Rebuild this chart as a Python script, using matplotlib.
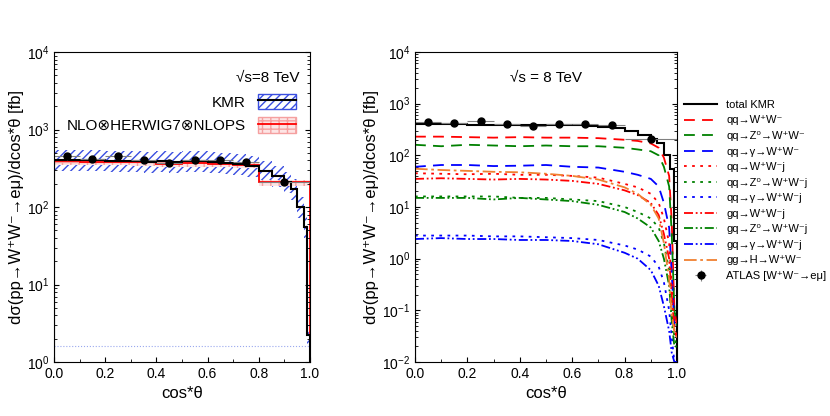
import matplotlib.pyplot as plt
import numpy as np
from matplotlib.patches import Patch
from matplotlib.lines import Line2D
from matplotlib.ticker import MultipleLocator

plt.rcParams['font.family'] = ['Liberation Sans', 'DejaVu Sans']

# ATLAS data
atlas_x = [0.05, 0.15, 0.25, 0.35, 0.45, 0.55, 0.65, 0.75, 0.9]
atlas_xerr = [0.05] * 8 + [0.1]
atlas_y = [450, 420, 460, 400, 370, 400, 400, 380, 210]
atlas_yerr = [40, 40, 40, 35, 35, 35, 35, 35, 20]

# KMR total histogram
kmr_edges = [0, 0.05, 0.1, 0.15, 0.2, 0.25, 0.3, 0.35, 0.4, 0.45, 0.5, 0.55, 0.6, 0.65, 0.7,
             0.75, 0.8, 0.85, 0.9, 0.925, 0.95, 0.975, 0.99, 1.0]
kmr_vals = [400, 400, 405, 400, 395, 390, 395, 385, 390, 380, 390, 390, 385, 370, 355,
            340, 290, 250, 210, 170, 100, 55, 2.2]

# NLO x HERWIG7 x NLOPS
nlo_edges = [0, 0.1, 0.2, 0.3, 0.4, 0.5, 0.6, 0.7, 0.8, 1.0]
nlo_vals = [390, 385, 385, 380, 360, 370, 360, 350, 210]

# right panel sub-processes
xs = [0.0, 0.1, 0.2, 0.3, 0.4, 0.5, 0.6, 0.7, 0.8, 0.85, 0.9, 0.93, 0.95, 0.97, 0.98, 0.99, 1.0]
qq_ww = [230, 230, 225, 220, 225, 220, 220, 215, 200, 190, 170, 140, 90, 40, 5, 0.1, 0.05]
qq_z_ww = [160, 150, 160, 155, 150, 155, 150, 150, 140, 130, 120, 100, 60, 25, 3, 0.1, 0.05]
qq_g_ww = [60, 65, 65, 62, 63, 65, 60, 58, 48, 42, 35, 25, 12, 4, 0.5, 0.05, 0.03]
qq_wwj = [45, 44, 43, 44, 42, 42, 40, 37, 28, 24, 18, 12, 6, 2, 0.3, 0.05, 0.03]
qq_z_wwj = [16, 16, 16, 16, 15, 15, 14, 13, 10, 8, 6, 4, 2, 0.6, 0.1, 0.03, 0.02]
qq_g_wwj = [2.8, 2.8, 2.8, 2.7, 2.7, 2.6, 2.5, 2.3, 1.8, 1.5, 1.1, 0.7, 0.35, 0.1, 0.03, 0.01, 0.01]
gq_wwj = [35, 36, 35, 34, 35, 34, 32, 28, 21, 17, 12, 7, 3, 1, 0.2, 0.04, 0.03]
gq_z_wwj = [15, 15, 15, 14, 15, 14, 13, 11, 8, 6, 4, 2.2, 1, 0.3, 0.06, 0.02, 0.02]
gq_g_wwj = [2.4, 2.5, 2.4, 2.4, 2.3, 2.3, 2.2, 1.9, 1.3, 1.0, 0.6, 0.3, 0.12, 0.04, 0.015, 0.01, 0.01]
gg_h_ww = [55, 52, 50, 48, 47, 44, 40, 34, 24, 18, 11, 6, 2, 0.4, 0.08, 0.04, 0.03]

ylab = 'dσ(pp→W⁺W⁻→eμ)/dcos*θ [fb]'

fig = plt.figure(figsize=(8.3, 4.16), dpi=100)
ax1 = fig.add_axes([54 / 830, 1 - 362 / 416, 256 / 830, 310 / 416])
ax2 = fig.add_axes([415 / 830, 1 - 362 / 416, 262 / 830, 310 / 416])

# ---- left panel
kv = np.array(kmr_vals)
ax1.stairs(kv * 1.35, kmr_edges, baseline=kv * 0.72, fill=True, facecolor='none',
           edgecolor='#3a4ee0', hatch='////', lw=0)
nv = np.array(nlo_vals)
ax1.stairs(nv * 1.05, nlo_edges, baseline=nv * 0.9, fill=True, facecolor='#fde4e4',
           edgecolor='#f5a0a0', hatch='++', lw=0)
ax1.stairs(nlo_vals, nlo_edges, color='red', lw=1.3)
ax1.stairs(kmr_vals, kmr_edges, color='black', lw=1.5)
ax1.errorbar(atlas_x, atlas_y, xerr=atlas_xerr, yerr=atlas_yerr, fmt='o', color='black',
             ecolor='grey', elinewidth=0.8, ms=5)
ax1.axhline(1.6, color='#9aa8ee', ls=':', lw=0.8)
h_kmr = (Patch(facecolor='none', edgecolor='#3a4ee0', hatch='////'), Line2D([], [], color='black', lw=1.5))
h_nlo = (Patch(facecolor='#fde4e4', edgecolor='#f5a0a0', hatch='++'), Line2D([], [], color='red', lw=1.3))
ax1.legend([h_kmr, h_nlo], ['KMR', 'NLO⊗HERWIG7⊗NLOPS'], loc='upper right',
           bbox_to_anchor=(1.0, 0.91), frameon=False, markerfirst=False, fontsize=11,
           handlelength=2.5, handleheight=1.2)
ax1.text(0.96, 0.94, '√s=8 TeV', transform=ax1.transAxes, ha='right', va='top', fontsize=11)
ax1.set_ylim(1, 1e4)

# ---- right panel
series = [
    (qq_ww, 'red', (0, (6, 4)), 'qq→W⁺W⁻'),
    (qq_z_ww, 'green', (0, (6, 4)), 'qq→Z⁰→W⁺W⁻'),
    (qq_g_ww, 'blue', (0, (6, 4)), 'qq→γ→W⁺W⁻'),
    (qq_wwj, 'red', (0, (1.5, 3)), 'qq→W⁺W⁻j'),
    (qq_z_wwj, 'green', (0, (1.5, 3)), 'qq→Z⁰→W⁺W⁻j'),
    (qq_g_wwj, 'blue', (0, (1.5, 3)), 'qq→γ→W⁺W⁻j'),
    (gq_wwj, 'red', (0, (5, 1.5, 1, 1.5, 1, 1.5)), 'gq→W⁺W⁻j'),
    (gq_z_wwj, 'green', (0, (5, 1.5, 1, 1.5, 1, 1.5)), 'gq→Z⁰→W⁺W⁻j'),
    (gq_g_wwj, 'blue', (0, (5, 1.5, 1, 1.5, 1, 1.5)), 'gq→γ→W⁺W⁻j'),
    (gg_h_ww, '#f08030', (0, (7, 2, 1.5, 2)), 'gg→H→W⁺W⁻'),
]
ax2.stairs(kmr_vals, kmr_edges, color='black', lw=1.5, label='total KMR')
for ys, c, ls, lab in series:
    ax2.plot(xs, ys, color=c, ls=ls, lw=1.3, label=lab)
ax2.errorbar(atlas_x, atlas_y, xerr=atlas_xerr, yerr=atlas_yerr, fmt='o', color='black',
             ecolor='grey', elinewidth=0.8, ms=5, label='ATLAS [W⁺W⁻→eμ]')
ax2.text(0.5, 0.94, '√s = 8 TeV', transform=ax2.transAxes, ha='center', va='top', fontsize=11)
ax2.legend(loc='upper left', bbox_to_anchor=(1.01, 0.86), frameon=False, fontsize=8,
           handlelength=3, labelspacing=0.5, borderaxespad=0)
ax2.set_ylim(1e-2, 1e4)

for ax in (ax1, ax2):
    ax.set_yscale('log')
    ax.set_xlim(0, 1)
    ax.xaxis.set_major_locator(MultipleLocator(0.2))
    ax.xaxis.set_minor_locator(MultipleLocator(0.1))
    ax.set_xlabel('cos*θ', fontsize=12)
    ax.set_ylabel(ylab, fontsize=12, labelpad=2)
    ax.tick_params(which='both', direction='in', top=False, right=True, labelsize=10)

fig.savefig('out.png', dpi=100)
